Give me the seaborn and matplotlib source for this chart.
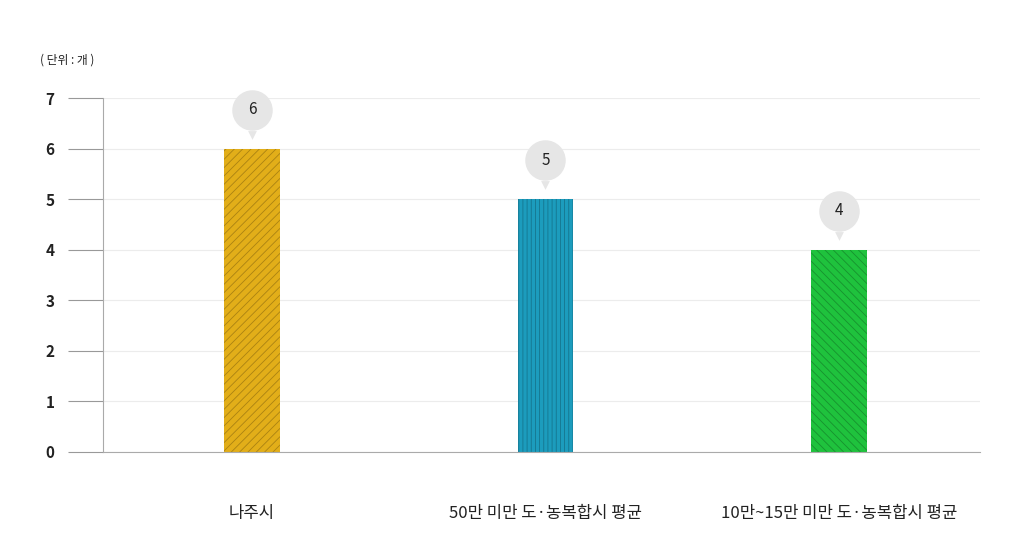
import matplotlib
matplotlib.use("Agg")
import matplotlib.pyplot as plt
import seaborn as sns
import pandas as pd
from matplotlib.transforms import offset_copy

categories = ["나주시", "50만 미만 도·농복합시 평균", "10만~15만 미만 도·농복합시 평균"]
values = [6, 5, 4]
colors = ["#e2ae19", "#1c9cbd", "#1fc23d"]
hatches = ["////", "||||", "\\\\\\\\"]
yticks = [0, 1, 2, 3, 4, 5, 6, 7]

sns.set_style("white")
plt.rcParams['font.family'] = ['Noto Sans CJK KR', 'DejaVu Sans']
plt.rcParams['hatch.linewidth'] = 0.6

fig = plt.figure(figsize=(10.26, 5.38), dpi=100)
ax = fig.add_axes([0.1004, 0.1599, 0.8544, 0.6579])
df = pd.DataFrame({"cat": categories, "val": values})
sns.barplot(data=df, x="cat", y="val", hue="cat", palette=colors, width=0.19, ax=ax, legend=False, saturation=1)
for p, h, c in zip(ax.patches, hatches, colors):
    p.set_hatch(h)
    p.set_edgecolor((0, 0, 0, 0.25))
    p.set_linewidth(0)

ax.set_xlim(-0.508, 2.48)
ax.set_ylim(0, 7)
ax.set_yticks(yticks)
ax.set_yticklabels([str(t) for t in yticks], fontsize=11, fontweight="bold", color="#222")
ax.tick_params(axis="y", length=25, width=0.8, color="#999", pad=10, left=True)
ax.tick_params(axis="x", length=0, pad=38, labelsize=12, colors="#222")
ax.set_xlabel("")
ax.set_ylabel("")
ax.grid(axis="y", color="#ececec", linewidth=0.8)
ax.set_axisbelow(True)
for s in ["top", "right"]:
    ax.spines[s].set_visible(False)
for s in ["left", "bottom"]:
    ax.spines[s].set_color("#aaa")
    ax.spines[s].set_linewidth(0.8)

for i, v in enumerate(values):
    tc = offset_copy(ax.transData, fig=fig, x=0, y=28, units="points")
    tt = offset_copy(ax.transData, fig=fig, x=0, y=10, units="points")
    ax.scatter([i], [v], s=850, color="#e6e6e6", transform=tc, zorder=5, clip_on=False, linewidths=0)
    ax.scatter([i], [v], s=40, marker="v", color="#e6e6e6", transform=tt, zorder=5, clip_on=False, linewidths=0)
    ax.text(i, v, str(v), transform=tc, ha="center", va="center", fontsize=11, color="#222", zorder=6)

fig.text(40/1026, 1-60/538, "( 단위 : 개 )", fontsize=8.5, color="#222", va="center")
fig.savefig("out.png", dpi=100)
